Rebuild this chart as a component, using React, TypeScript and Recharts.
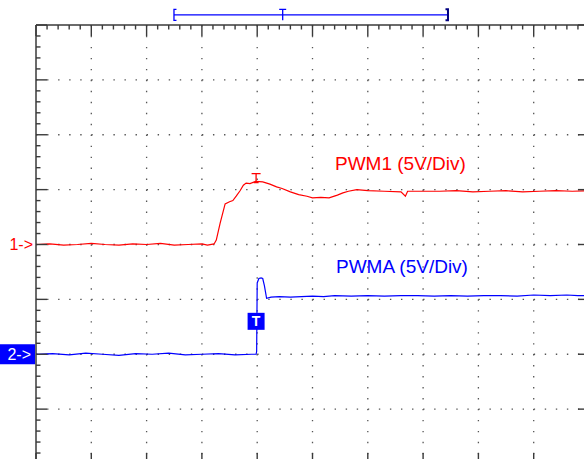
import React from 'react';
import { LineChart, Line, XAxis, YAxis, CartesianGrid, ReferenceDot, ReferenceLine } from 'recharts';

const RED = '#ff0000';
const BLUE = '#0000ff';
const FRAME = '#3a3a3a';
const FONT = '"Liberation Sans", Arial, sans-serif';

// PWM1 trace (time in divisions, level in divisions)
const redTime = [0, 0.25, 0.5, 0.75, 1.0, 1.25, 1.5, 1.75, 2.0, 2.25, 2.5, 2.75, 3.0, 3.1, 3.22, 3.26, 3.33, 3.42, 3.5, 3.56, 3.62, 3.69, 3.75, 3.8, 3.87, 3.97, 4.1, 4.23, 4.35, 4.45, 4.6, 4.75, 4.9, 5.0, 5.15, 5.3, 5.45, 5.55, 5.65, 5.8, 6.0, 6.3, 6.6, 6.68, 6.72, 6.8, 7.0, 7.3, 7.6, 7.9, 8.2, 8.5, 8.8, 9.1, 9.4, 9.7, 10.0];
const redLevel = [0.0, 0.01, -0.01, 0.0, 0.02, 0.0, -0.01, 0.01, 0.0, 0.02, -0.01, 0.0, 0.01, -0.01, 0.01, 0.08, 0.39, 0.74, 0.78, 0.8, 0.88, 0.98, 1.08, 1.12, 1.11, 1.15, 1.14, 1.1, 1.05, 1.02, 0.96, 0.91, 0.88, 0.85, 0.86, 0.85, 0.9, 0.94, 0.97, 1.0, 0.98, 0.97, 0.96, 0.88, 0.97, 0.97, 0.97, 0.97, 0.98, 0.96, 0.97, 0.98, 0.96, 0.97, 0.98, 0.97, 0.98];

// PWMA trace
const blueTime = [0, 0.3, 0.6, 0.9, 1.2, 1.5, 1.8, 2.1, 2.4, 2.7, 3.0, 3.3, 3.6, 3.9, 3.98, 3.99, 4.0, 4.03, 4.07, 4.1, 4.13, 4.17, 4.25, 4.4, 4.6, 4.8, 5.0, 5.2, 5.4, 5.7, 6.0, 6.3, 6.6, 6.9, 7.2, 7.5, 7.8, 8.1, 8.4, 8.7, 9.0, 9.3, 9.6, 9.8, 10.0];
const blueLevel = [-2.0, -1.99, -2.01, -1.98, -2.0, -2.02, -1.99, -2.0, -1.98, -2.01, -2.0, -1.99, -2.01, -2.0, -2.0, -1.95, -0.7, -0.62, -0.61, -0.62, -0.75, -0.98, -0.96, -0.95, -0.96, -0.95, -0.94, -0.95, -0.93, -0.94, -0.93, -0.94, -0.93, -0.93, -0.94, -0.93, -0.94, -0.93, -0.93, -0.94, -0.92, -0.93, -0.92, -0.93, -0.93];

const redData = redTime.map((t, i) => ({ t, v: redLevel[i] }));
const blueData = blueTime.map((t, i) => ({ t, v: blueLevel[i] }));

const xTicks = Array.from({ length: 51 }, (_, i) => +(i * 0.2).toFixed(1));
const yTicks = Array.from({ length: 41 }, (_, i) => +(-4 + i * 0.2).toFixed(1));
const xGridValues = [1, 2, 3, 4, 5, 6, 7, 8, 9];
const yGridValues = [-3, -2, -1, 0, 1, 2, 3];

const labelPWM1 = 'PWM1 (5V/Div)';
const labelPWMA = 'PWMA (5V/Div)';
const marker1 = '1->';
const marker2 = '2->';

const isMajor = (v: number) => Math.abs(v - Math.round(v)) < 1e-6;
const makeTick = (dx: number, dy: number) => (props: any) => {
  const { x, y, payload } = props;
  const len = isMajor(payload.value) ? 11 : 4.5;
  return <line x1={x} y1={y} x2={x + dx * len} y2={y + dy * len} stroke={FRAME} strokeWidth={1.4} />;
};

export default function App() {
  return (
    <div style={{ position: 'absolute', left: 0, top: 0, width: 584, height: 459, background: '#fff' }}>
      <LineChart width={584} height={459} margin={{ top: 24, left: 35, right: -6, bottom: -6 }}>
        <CartesianGrid horizontal={true} vertical={false} horizontalValues={yGridValues} stroke="#555" strokeWidth={1.3} strokeDasharray="1.4 9.66" />
        <CartesianGrid horizontal={false} vertical={true} verticalValues={xGridValues} stroke="#555" strokeWidth={1.3} strokeDasharray="1.4 9.57" />
        <XAxis dataKey="t" type="number" domain={[0, 10]} orientation="top" height={1} ticks={xTicks} interval={0}
          tickSize={0} tickMargin={0} tickLine={false} axisLine={{ stroke: FRAME, strokeWidth: 1.5 }} tick={makeTick(0, 1)} allowDataOverflow />
        <XAxis xAxisId="xb" dataKey="t" type="number" domain={[0, 10]} orientation="bottom" height={1} ticks={xTicks} interval={0}
          tickSize={0} tickMargin={0} tickLine={false} axisLine={{ stroke: FRAME, strokeWidth: 1.5 }} tick={makeTick(0, -1)} allowDataOverflow />
        <YAxis type="number" domain={[-4, 4]} width={1} ticks={yTicks} interval={0}
          tickSize={0} tickMargin={0} tickLine={false} axisLine={{ stroke: FRAME, strokeWidth: 1.5 }} tick={makeTick(1, 0)} allowDataOverflow />
        <YAxis yAxisId="yr" type="number" domain={[-4, 4]} orientation="right" width={1} ticks={yTicks} interval={0}
          tickSize={0} tickMargin={0} tickLine={false} axisLine={{ stroke: FRAME, strokeWidth: 1.5 }} tick={makeTick(-1, 0)} allowDataOverflow />

        <Line data={redData} dataKey="v" type="linear" stroke={RED} strokeWidth={1.2} dot={false} isAnimationActive={false} />
        <Line data={blueData} dataKey="v" type="linear" stroke={BLUE} strokeWidth={1.2} dot={false} isAnimationActive={false} />

        <ReferenceLine segment={[{ x: 2.495, y: 4.185 }, { x: 7.45, y: 4.185 }]} stroke={BLUE} strokeWidth={1.3} ifOverflow="visible" />
        <ReferenceDot x={2.495} y={4.185} r={0} ifOverflow="visible" isFront
          shape={(p: any) => <path d={`M${p.cx + 2.5},${p.cy - 5.5} H${p.cx} V${p.cy + 5.5} H${p.cx + 2.5}`} fill="none" stroke={BLUE} strokeWidth={1.3} />} />
        <ReferenceDot x={4.461} y={4.185} r={0} ifOverflow="visible" isFront
          shape={(p: any) => <path d={`M${p.cx - 3.5},${p.cy - 5.5} H${p.cx + 3.5} M${p.cx},${p.cy - 5.5} V${p.cy + 5.5}`} fill="none" stroke={BLUE} strokeWidth={1.3} />} />
        <ReferenceDot x={7.45} y={4.185} r={0} ifOverflow="visible" isFront
          shape={(p: any) => <path d={`M${p.cx - 2.5},${p.cy - 5.5} H${p.cx} V${p.cy + 5.5} H${p.cx - 2.5}`} fill="none" stroke="#000080" strokeWidth={2} />} />

        <ReferenceDot x={0} y={0} r={0} ifOverflow="visible" isFront
          shape={(p: any) => <text x={p.cx - 3} y={p.cy + 5.5} textAnchor="end" fill={RED} fontSize={16} fontFamily={FONT}>{marker1}</text>} />
        <ReferenceDot x={0} y={-2} r={0} ifOverflow="visible" isFront
          shape={(p: any) => (
            <g>
              <rect x={p.cx - 36} y={p.cy - 10} width={35} height={20} fill={BLUE} />
              <text x={p.cx - 5} y={p.cy + 5.5} textAnchor="end" fill="#fff" fontSize={16} fontFamily={FONT}>{marker2}</text>
            </g>
          )} />
        <ReferenceDot x={3.98} y={-1.4} r={0} ifOverflow="visible" isFront
          shape={(p: any) => (
            <g>
              <rect x={p.cx - 8.5} y={p.cy - 8.5} width={17} height={17} fill={BLUE} />
              <text x={p.cx} y={p.cy + 5} textAnchor="middle" fill="#fff" fontSize={14} fontWeight="bold" fontFamily={FONT}>T</text>
            </g>
          )} />
        <ReferenceDot x={3.98} y={1.2} r={0} ifOverflow="visible" isFront
          shape={(p: any) => <path d={`M${p.cx - 4.5},${p.cy - 5} H${p.cx + 4.5} M${p.cx},${p.cy - 5} V${p.cy + 4} M${p.cx - 2.5},${p.cy + 4} H${p.cx + 2.5}`} fill="none" stroke={RED} strokeWidth={1.3} />} />

        <ReferenceDot x={5.407} y={1.351} r={0} ifOverflow="visible" isFront
          shape={(p: any) => <text x={p.cx} y={p.cy} fill={RED} fontSize={19} fontFamily={FONT}>{labelPWM1}</text>} />
        <ReferenceDot x={5.425} y={-0.527} r={0} ifOverflow="visible" isFront
          shape={(p: any) => <text x={p.cx} y={p.cy} fill={BLUE} fontSize={19} fontFamily={FONT}>{labelPWMA}</text>} />
      </LineChart>
    </div>
  );
}
